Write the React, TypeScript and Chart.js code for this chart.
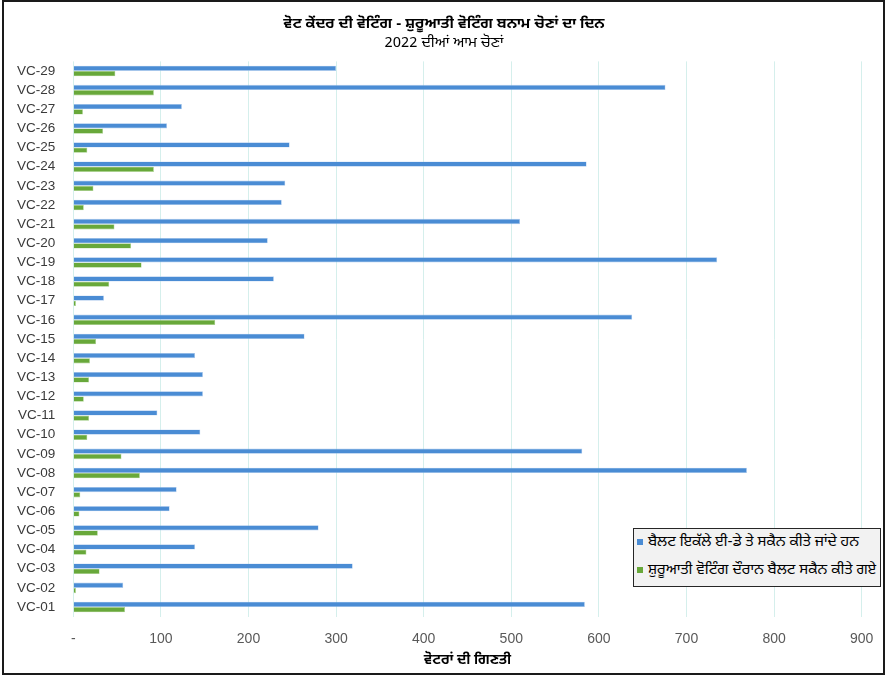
import React, { useEffect, useRef } from "react";
import { Chart, registerables } from "chart.js";

Chart.register(...registerables);

// Display order: top to bottom
const categories = [
  "VC-29", "VC-28", "VC-27", "VC-26", "VC-25", "VC-24", "VC-23", "VC-22", "VC-21", "VC-20",
  "VC-19", "VC-18", "VC-17", "VC-16", "VC-15", "VC-14", "VC-13", "VC-12", "VC-11", "VC-10",
  "VC-09", "VC-08", "VC-07", "VC-06", "VC-05", "VC-04", "VC-03", "VC-02", "VC-01",
];

const eDayBallots = [
  300, 676, 124, 107, 247, 586, 242, 238, 510, 222,
  735, 229, 35, 638, 264, 139, 148, 148, 96, 145,
  581, 769, 118, 110, 280, 139, 319, 57, 584,
];

const earlyBallots = [
  48, 92, 11, 34, 16, 92, 23, 12, 47, 66,
  78, 41, 3, 162, 26, 19, 18, 12, 18, 16,
  55, 76, 8, 7, 28, 15, 30, 3, 59,
];

const seriesLabels = [
  "ਬੈਲਟ ਇਕੱਲੇ ਈ-ਡੇ ਤੇ ਸਕੈਨ ਕੀਤੇ ਜਾਂਦੇ ਹਨ",
  "ਸ਼ੁਰੂਆਤੀ ਵੋਟਿੰਗ ਦੌਰਾਨ ਬੈਲਟ ਸਕੈਨ ਕੀਤੇ ਗਏ",
];
const seriesColors = ["#4a8cd4", "#68a83a"];

const xTickValues = [0, 100, 200, 300, 400, 500, 600, 700, 800, 900];

const titleText = "ਵੋਟ ਕੇਂਦਰ ਦੀ ਵੋਟਿੰਗ - ਸ਼ੁਰੂਆਤੀ ਵੋਟਿੰਗ ਬਨਾਮ ਚੋਣਾਂ ਦਾ ਦਿਨ";
const subtitleText = "2022 ਦੀਆਂ ਆਮ ਚੋਣਾਂ";
const xAxisTitle = "ਵੋਟਰਾਂ ਦੀ ਗਿਣਤੀ";

const GURMUKHI = '"Noto Sans Gurmukhi", "Lohit Gurmukhi", "Noto Sans", "DejaVu Sans", sans-serif';
const LATIN = '"Liberation Sans", Arial, sans-serif';

export default function App() {
  const canvasRef = useRef<HTMLCanvasElement | null>(null);

  useEffect(() => {
    document.body.style.margin = "0";
    const canvas = canvasRef.current;
    if (!canvas) return;
    const chart = new Chart(canvas, {
      type: "bar",
      data: {
        labels: categories,
        datasets: [
          {
            label: seriesLabels[0],
            data: eDayBallots,
            backgroundColor: seriesColors[0],
            borderColor: "rgba(170,200,236,0.9)",
            borderWidth: 0.6,
            categoryPercentage: 0.55,
            barPercentage: 1.0,
          },
          {
            label: seriesLabels[1],
            data: earlyBallots,
            backgroundColor: seriesColors[1],
            borderColor: "rgba(160,205,130,0.9)",
            borderWidth: 0.6,
            categoryPercentage: 0.55,
            barPercentage: 1.0,
          },
        ],
      },
      options: {
        indexAxis: "y",
        responsive: false,
        animation: false,
        layout: { padding: { top: 0, left: 0, right: 0, bottom: 3 } },
        plugins: {
          legend: { display: false },
          tooltip: { enabled: false },
          title: {
            display: true,
            text: titleText,
            color: "#000000",
            font: { family: GURMUKHI, size: 15, weight: "bold" },
            padding: { top: 16, bottom: 0 },
          },
          subtitle: {
            display: true,
            text: subtitleText,
            color: "#000000",
            font: { family: GURMUKHI, size: 15, weight: "normal" },
            padding: { top: 1, bottom: 8.4 },
          },
        },
        scales: {
          x: {
            type: "linear",
            position: "bottom",
            min: 0,
            max: 900,
            afterBuildTicks: (s: any) => {
              s.ticks = xTickValues.map((v) => ({ value: v }));
            },
            afterFit: (s: any) => {
              s.height = 57.4;
            },
            grid: { color: "#d5efec", lineWidth: 1, drawTicks: false },
            border: { display: false },
            ticks: {
              padding: 14,
              color: "#595959",
              font: { family: LATIN, size: 14 },
              maxRotation: 0,
              callback: (v: any) => (Number(v) === 0 ? "-" : String(v)),
            },
            title: {
              display: true,
              text: xAxisTitle,
              color: "#000000",
              font: { family: GURMUKHI, size: 14, weight: "bold" },
              padding: { top: 0, bottom: 4 },
            },
          },
          y: {
            type: "category",
            position: "left",
            afterFit: (s: any) => {
              s.width = 73.3;
            },
            grid: { display: false, drawTicks: false },
            border: { display: false },
            ticks: {
              padding: 18,
              color: "#3a3a3a",
              font: { family: LATIN, size: 13.5 },
              autoSkip: false,
            },
          },
          yRight: {
            type: "linear",
            position: "right",
            display: true,
            grid: { display: false, drawTicks: false },
            border: { display: false },
            ticks: { display: false },
            afterFit: (s: any) => {
              s.width = 26.3;
            },
          },
        },
      },
    } as any);
    return () => {
      chart.destroy();
    };
  }, []);

  return (
    <div
      style={{
        position: "fixed",
        left: 0,
        top: 0,
        width: 888,
        height: 677,
        background: "#ffffff",
        overflow: "hidden",
      }}
    >
      <canvas ref={canvasRef} width={888} height={677} style={{ position: "absolute", left: 0, top: 0, width: 888, height: 677 }} />
      <div
        style={{
          position: "absolute",
          left: 2,
          top: 0,
          width: 883,
          height: 675,
          boxSizing: "border-box",
          border: "2px solid #1a1a1a",
          pointerEvents: "none",
        }}
      />
      <div
        style={{
          position: "absolute",
          left: 633,
          top: 528,
          width: 248,
          height: 59,
          boxSizing: "border-box",
          background: "#f2f2f2",
          border: "1.5px solid #262626",
          fontFamily: GURMUKHI,
          fontSize: 15,
          color: "#000",
        }}
      >
        {seriesLabels.map((label, i) => (
          <div
            key={label}
            style={{
              position: "absolute",
              left: 3,
              top: i === 0 ? 3 : 31,
              height: 20,
              display: "flex",
              alignItems: "center",
              whiteSpace: "nowrap",
            }}
          >
            <span style={{ display: "inline-block", width: 6, height: 6, background: seriesColors[i], marginRight: 5 }} />
            <span>{label}</span>
          </div>
        ))}
      </div>
    </div>
  );
}
